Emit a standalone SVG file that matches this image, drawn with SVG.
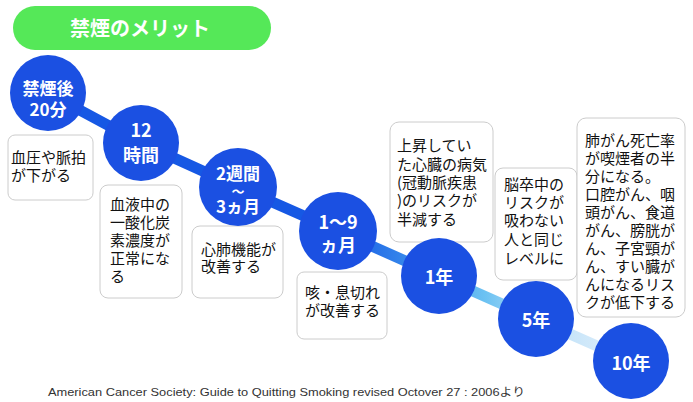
<svg xmlns="http://www.w3.org/2000/svg" width="693" height="402" viewBox="0 0 693 402">
<defs>
<linearGradient id="lineGrad" gradientUnits="userSpaceOnUse" x1="48" y1="0" x2="631" y2="0">
<stop offset="0" stop-color="#1658e4"/>
<stop offset="0.5" stop-color="#1658e4"/>
<stop offset="0.63" stop-color="#3a8eec"/>
<stop offset="0.75" stop-color="#6cc2f2"/>
<stop offset="0.84" stop-color="#b8def8"/>
<stop offset="1" stop-color="#e4f1fb"/>
</linearGradient>
<style>
.ttl{font-family:"Noto Sans CJK JP","Noto Sans",sans-serif;font-weight:bold;font-size:20px;fill:#fff;text-anchor:middle}
.c{fill:#1b50e2}
.ct{font-family:"Noto Sans CJK JP","Noto Sans",sans-serif;font-weight:bold;font-size:18px;fill:#fff;text-anchor:middle}
.cs{font-size:17px}
.tl{font-size:13px}
.box{fill:#fff;stroke:#cccccc;stroke-width:1}
.bt{font-family:"Noto Sans CJK JP","Noto Sans",sans-serif;font-size:15px;fill:#111}
.ft{font-family:"Liberation Sans","Noto Sans CJK JP",sans-serif;font-size:11px;fill:#333}
</style>
</defs>
<rect width="693" height="402" fill="#fff"/>
<g id="title">
<rect x="13" y="6" width="258" height="44" rx="22" fill="#55e858"/>
<text class="ttl" x="140" y="36">禁煙のメリット</text>
</g>
<g id="connectors">
<polyline points="48,93 141,143 238,187 338,231 439,276 536,319 631,361" fill="none" stroke="url(#lineGrad)" stroke-width="11" stroke-linejoin="round"/>
</g>
<g id="node1">
<rect class="box" x="8" y="135" width="85" height="65" rx="7"/>
<text class="bt"><tspan x="11" y="163">血圧や脈拍</tspan><tspan x="11" y="181">が下がる</tspan></text>
<circle class="c" cx="48" cy="93" r="38"/>
<text class="ct cs"><tspan x="48" y="95">禁煙後</tspan><tspan x="48" y="116">20分</tspan></text>
</g>
<g id="node2">
<rect class="box" x="100" y="185" width="82" height="113" rx="8"/>
<text class="bt"><tspan x="110" y="210">血液中の</tspan><tspan x="110" y="228">一酸化炭</tspan><tspan x="110" y="246">素濃度が</tspan><tspan x="110" y="264">正常にな</tspan><tspan x="110" y="282">る</tspan></text>
<circle class="c" cx="141" cy="143" r="38"/>
<text class="ct"><tspan x="141" y="137">12</tspan><tspan x="141" y="162">時間</tspan></text>
</g>
<g id="node3">
<rect class="box" x="192" y="226" width="91" height="72" rx="8"/>
<text class="bt"><tspan x="201" y="255">心肺機能が</tspan><tspan x="201" y="272">改善する</tspan></text>
<circle class="c" cx="238" cy="187" r="39"/>
<text class="ct cs"><tspan x="238" y="180">2週間</tspan><tspan class="tl" x="238" y="196">〜</tspan><tspan x="238" y="213">3ヵ月</tspan></text>
</g>
<g id="node4">
<rect class="box" x="297" y="272" width="90" height="67" rx="7"/>
<text class="bt"><tspan x="305" y="298">咳・息切れ</tspan><tspan x="305" y="316">が改善する</tspan></text>
<circle class="c" cx="338" cy="231" r="39"/>
<text class="ct"><tspan x="338" y="229">1〜9</tspan><tspan x="338" y="252">ヵ月</tspan></text>
</g>
<g id="node5">
<rect class="box" x="390" y="122" width="103" height="120" rx="9"/>
<text class="bt"><tspan x="397" y="151">上昇してい</tspan><tspan x="397" y="170">た心臓の病気</tspan><tspan x="397" y="188">(冠動脈疾患</tspan><tspan x="397" y="206">)のリスクが</tspan><tspan x="397" y="225">半減する</tspan></text>
<circle class="c" cx="439" cy="276" r="38"/>
<text class="ct" x="439" y="284">1年</text>
</g>
<g id="node6">
<rect class="box" x="495" y="168" width="82" height="112" rx="8"/>
<text class="bt"><tspan x="504" y="190">脳卒中の</tspan><tspan x="504" y="208">リスクが</tspan><tspan x="504" y="226">吸わない</tspan><tspan x="504" y="245">人と同じ</tspan><tspan x="504" y="264">レベルに</tspan></text>
<circle class="c" cx="536" cy="319" r="38"/>
<text class="ct" x="536" y="327">5年</text>
</g>
<g id="node7">
<rect class="box" x="577" y="118" width="108" height="199" rx="9"/>
<text class="bt"><tspan x="585" y="146">肺がん死亡率</tspan><tspan x="585" y="164">が喫煙者の半</tspan><tspan x="585" y="182">分になる。</tspan><tspan x="585" y="200">口腔がん、咽</tspan><tspan x="585" y="218">頭がん、食道</tspan><tspan x="585" y="236">がん、膀胱が</tspan><tspan x="585" y="254">ん、子宮頸が</tspan><tspan x="585" y="272">ん、すい臓が</tspan><tspan x="585" y="290">んになるリス</tspan><tspan x="585" y="308">クが低下する</tspan></text>
<circle class="c" cx="631" cy="361" r="38"/>
<text class="ct" x="631" y="370">10年</text>
</g>
<text class="ft" x="48" y="396" textLength="477" lengthAdjust="spacingAndGlyphs">American Cancer Society: Guide to Quitting Smoking revised Octover 27 : 2006より</text>
</svg>
